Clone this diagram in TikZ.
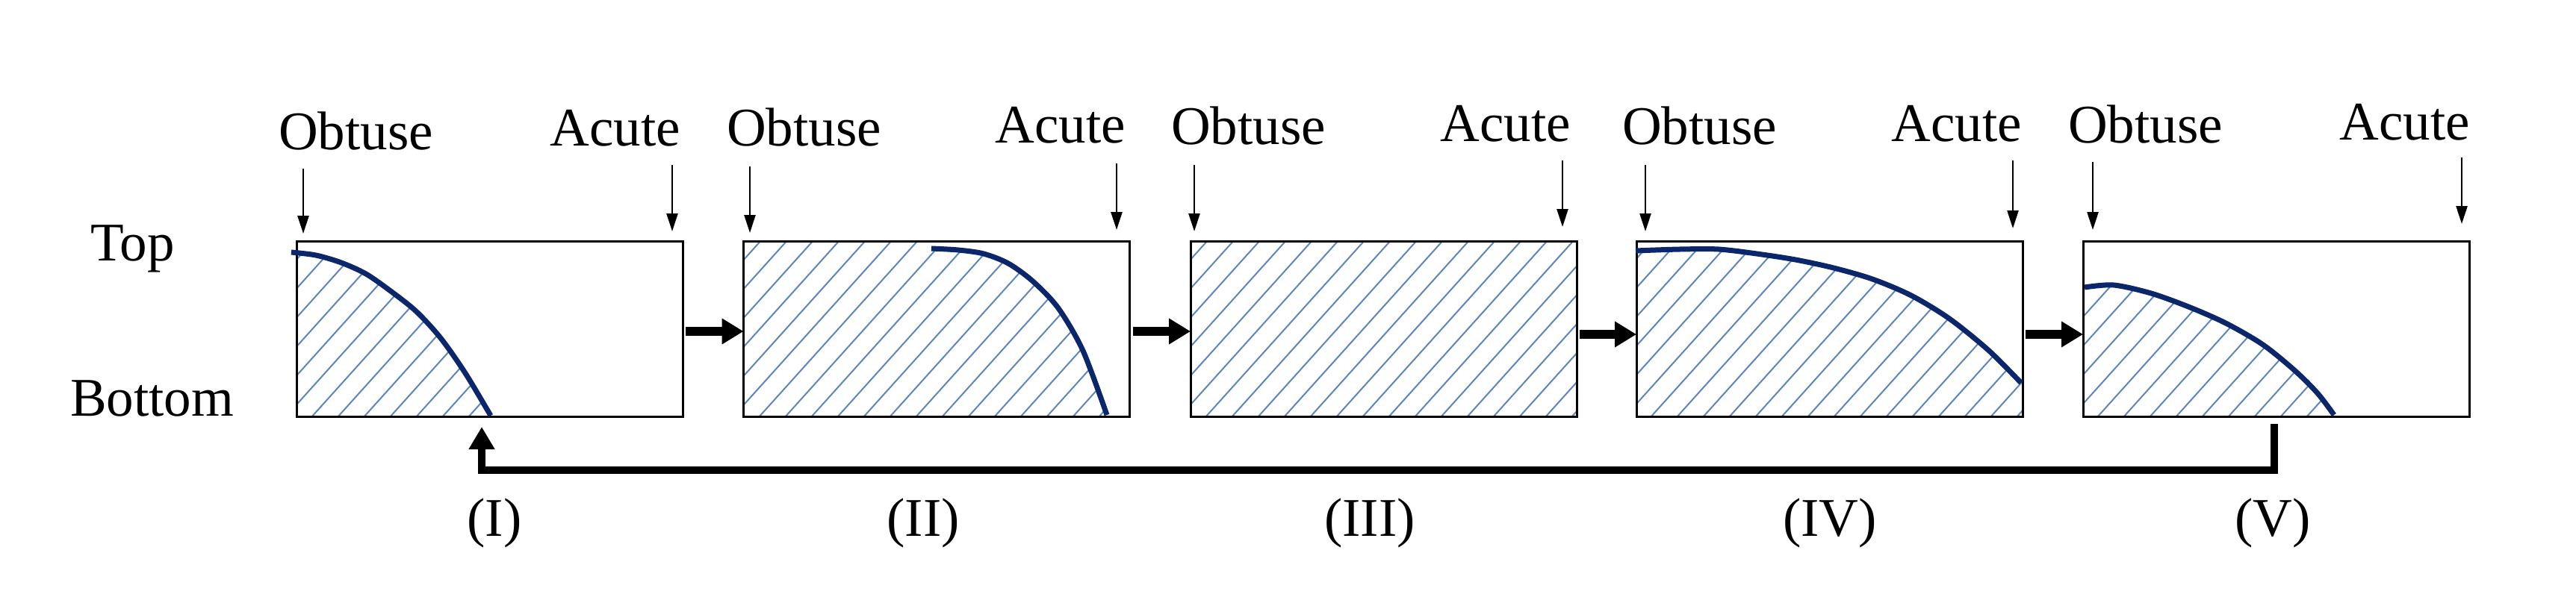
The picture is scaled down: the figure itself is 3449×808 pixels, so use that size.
\documentclass[tikz,border=0pt]{standalone}
\usepackage{fontspec}
\setmainfont{Liberation Serif}
\usetikzlibrary{arrows.meta}
\definecolor{hatchc}{RGB}{92,134,188}
\definecolor{curvec}{RGB}{12,38,108}
\tikzset{
  lab/.style={inner sep=0pt, font=\fontsize{73}{80}\selectfont},
  box/.style={draw=black, line width=3pt, minimum width=517pt, minimum height=235pt, inner sep=0pt, outer sep=0pt},
  hline/.style={draw=hatchc, line width=2pt},
  curve/.style={draw=curvec, line width=7pt},
  thinarr/.style={line width=2.5pt, -{Triangle[length=24pt,width=15pt]}},
  thickarr/.style={line width=12pt, -{Triangle[length=29pt,width=33pt]}},
  fbarr/.style={line width=10pt, line join=miter, -{Triangle[length=30pt,width=33pt]}},
}
\newcommand\hatchbox[1]{%
  \foreach \k in {0,...,22} {\draw[hline] ({#1-262+35*\k},600) -- ({#1-262+35*\k+288},280);}%
}
\begin{document}
\begin{tikzpicture}[x=1pt,y=-1pt]
\useasboundingbox (0,0) rectangle (3449,808);
\fill[white] (0,0) rectangle (3449,808);

% ---- hatching ----
\begin{scope}
  \clip (397,323) rectangle (914,558);
  \clip (380,338) -- plot[smooth] coordinates {(390,338) (423,342) (457,352) (490,367) (523,390) (557,417) (590,453) (623,500) (657,558)} -- (657,600) -- (380,600) -- cycle;
  \hatchbox{397}
\end{scope}
\begin{scope}
  \clip (996,323) rectangle (1512,558);
  \clip (980,300) -- (1247,300) -- (1247,333) -- plot[smooth] coordinates {(1247,333) (1283,335) (1317,340) (1350,353) (1383,377) (1417,413) (1450,470) (1482,558)} -- (1482,600) -- (980,600) -- cycle;
  \hatchbox{996}
\end{scope}
\begin{scope}
  \clip (1594,323) rectangle (2111,558);
  \hatchbox{1594}
\end{scope}
\begin{scope}
  \clip (2190,323) rectangle (2709,558);
  \clip (2180,336) -- plot[smooth] coordinates {(2190,336) (2249,334) (2301,334) (2352,340) (2404,348) (2455,359) (2507,374) (2559,396) (2610,427) (2662,469) (2709,515)} -- (2720,515) -- (2720,600) -- (2180,600) -- cycle;
  \hatchbox{2190}
\end{scope}
\begin{scope}
  \clip (2788,323) rectangle (3307,558);
  \clip (2780,385) -- plot[smooth] coordinates {(2791,385) (2830,382) (2880,393) (2930,411) (2980,433) (3030,462) (3073,497) (3103,527) (3125,558)} -- (3125,600) -- (2780,600) -- cycle;
  \hatchbox{2788}
\end{scope}

% ---- boxes ----
\node[box] (b1) at (655.5,440.5) {};
\node[box] (b2) at (1254,440.5) {};
\node[box] (b3) at (1852.5,440.5) {};
\node[box] (b4) at (2449.5,440.5) {};
\node[box] (b5) at (3047.5,440.5) {};

% ---- curves ----
\draw[curve] plot[smooth] coordinates {(390,338) (423,342) (457,352) (490,367) (523,390) (557,417) (590,453) (623,500) (657,557)};
\draw[curve] plot[smooth] coordinates {(1247,333) (1283,335) (1317,340) (1350,353) (1383,377) (1417,413) (1450,470) (1482,556)};
\draw[curve] plot[smooth] coordinates {(2190,336) (2249,334) (2301,334) (2352,340) (2404,348) (2455,359) (2507,374) (2559,396) (2610,427) (2662,469) (2706,513)};
\draw[curve] plot[smooth] coordinates {(2791,385) (2830,382) (2880,393) (2930,411) (2980,433) (3030,462) (3073,497) (3103,527) (3125,556)};

% ---- labels ----
\node[lab, anchor=base west] (top) at (121,349) {Top};
\node[lab, anchor=base west] (bottom) at (94,557) {Bottom};

\node[lab, anchor=base west] (o1) at (373,200) {Obtuse};
\node[lab, anchor=base east] (a1) at (911,195) {Acute};
\node[lab, anchor=base west] (o2) at (973,195) {Obtuse};
\node[lab, anchor=base east] (a2) at (1507,191) {Acute};
\node[lab, anchor=base west] (o3) at (1568,193) {Obtuse};
\node[lab, anchor=base east] (a3) at (2103,189) {Acute};
\node[lab, anchor=base west] (o4) at (2172,193) {Obtuse};
\node[lab, anchor=base east] (a4) at (2707,189) {Acute};
\node[lab, anchor=base west] (o5) at (2769,191) {Obtuse};
\node[lab, anchor=base east] (a5) at (3307,187) {Acute};

\node[lab, anchor=base] (r1) at (662,718) {(I)};
\node[lab, anchor=base] (r2) at (1236,718) {(II)};
\node[lab, anchor=base] (r3) at (1834,718) {(III)};
\node[lab, anchor=base] (r4) at (2450,718) {(IV)};
\node[lab, anchor=base] (r5) at (3043,718) {(V)};

% ---- thin arrows ----
\coordinate (o1s) at (406,226);  \coordinate (o1e) at (406,313);
\coordinate (a1s) at (900,221);  \coordinate (a1e) at (900,310);
\coordinate (o2s) at (1004,223); \coordinate (o2e) at (1004,312);
\coordinate (a2s) at (1495,219); \coordinate (a2e) at (1495,308);
\coordinate (o3s) at (1599,221); \coordinate (o3e) at (1599,310);
\coordinate (a3s) at (2092,215); \coordinate (a3e) at (2092,304);
\coordinate (o4s) at (2203,221); \coordinate (o4e) at (2203,310);
\coordinate (a4s) at (2695,215); \coordinate (a4e) at (2695,306);
\coordinate (o5s) at (2802,217); \coordinate (o5e) at (2802,308);
\coordinate (a5s) at (3296,211); \coordinate (a5e) at (3296,300);
\foreach \p in {o1,a1,o2,a2,o3,a3,o4,a4,o5,a5} {\draw[thinarr] (\p s) -- (\p e);}

% ---- thick arrows between boxes ----
\draw[thickarr] ([xshift=4pt,yshift=-3.5pt]b1.east) -- ([yshift=-3.5pt]b2.west);
\draw[thickarr] ([xshift=4pt,yshift=-3.5pt]b2.east) -- ([yshift=-3.5pt]b3.west);
\draw[thickarr] ([xshift=4pt,yshift=-7.5pt]b3.east) -- ([yshift=-7.5pt]b4.west);
\draw[thickarr] ([xshift=4pt,yshift=-7.5pt]b4.east) -- ([yshift=-7.5pt]b5.west);

% ---- feedback arrow ----
\draw[fbarr] ([xshift=-2.5pt,yshift=-10pt]b5.south) -- ++(0,62) -| ([xshift=-10.5pt,yshift=-14pt]b1.south);
\end{tikzpicture}
\end{document}
